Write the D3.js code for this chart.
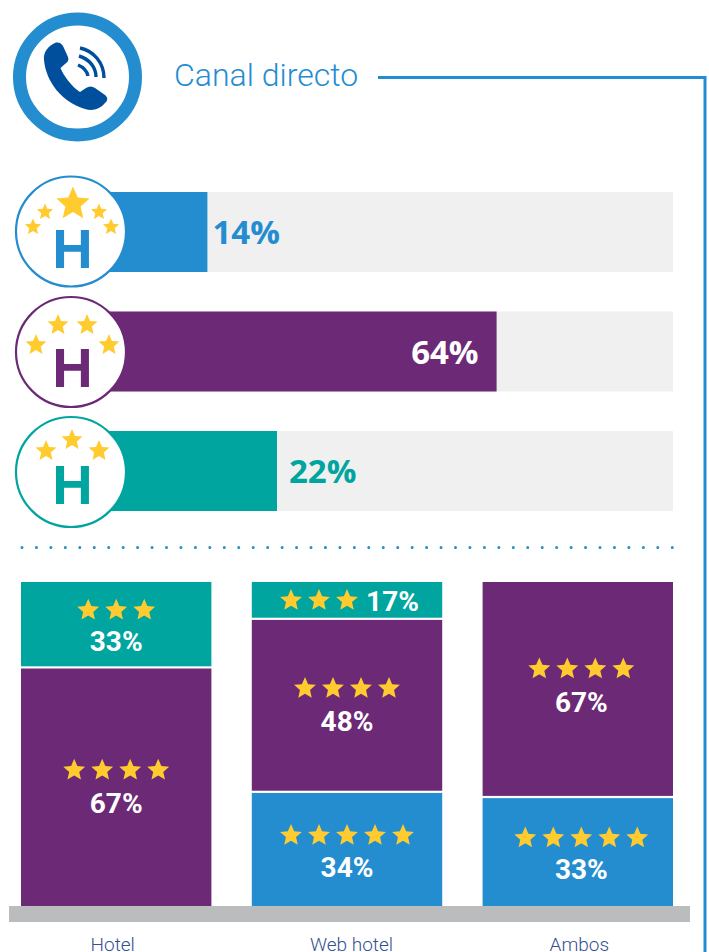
<!DOCTYPE html>
<html><head><meta charset="utf-8">
<script src="https://cdn.jsdelivr.net/npm/d3@7/dist/d3.min.js"></script>
<style>html,body{margin:0;padding:0;background:#fff}svg{display:block}</style></head>
<body><div id="chart"></div>
<script>
// Data. The printed labels and the drawn lengths disagree
// in the original, so both are kept: drawn values are estimates on a 0-100 track.
const rowLabels = ["14%", "64%", "22%"];
const rowDrawn = [22.4, 70.6, 34.0];
const rowStars = [5, 4, 3];
const columns = ["Hotel", "Web hotel", "Ambos"];
const hotelDrawn = [26.7, 73.3];
const hotelLabels = ["33%", "67%"];
const hotelStars = [3, 4];
const webDrawn = [11.7, 53.4, 34.9];
const webLabels = ["17%", "48%", "34%"];
const webStars = [3, 4, 5];
const ambosDrawn = [66.7, 33.3];
const ambosLabels = ["67%", "33%"];
const ambosStars = [4, 5];

// Layout and style, apart from the data
const BLUE = "#248dcf", PURPLE = "#6c2a76", TEAL = "#00a5a0", GOLD = "#ffcb2f";
const starColor = {3: TEAL, 4: PURPLE, 5: BLUE};
const hotelOffsets = [[-15, 26], [-17, 26]];
const webOffsets = [[0, 0], [-18, 25], [-14, 28]];
const ambosOffsets = [[-21, 22], [-14, 27]];
const colCenterShift = [0, 0, 3.5];
const captionShift = [-3.5, 4.5, 1.5];

const W = 709, H = 952;
const svg = d3.select("#chart").append("svg").attr("width", W).attr("height", H);

const starPath = (r) => {
  const pts = [];
  for (let i = 0; i < 10; i++) {
    const a = -Math.PI / 2 + i * Math.PI / 5, q = i % 2 ? r * 0.46 : r;
    pts.push([q * Math.cos(a), q * Math.sin(a)]);
  }
  return d3.line()(pts) + "Z";
};
const star = (g, x, y, r) => g.append("path").attr("d", starPath(r))
  .attr("transform", `translate(${x},${y})`).attr("fill", GOLD);

// header
svg.append("circle").attr("cx", 77.5).attr("cy", 77).attr("r", 58).attr("fill", "#fff")
  .attr("stroke", BLUE).attr("stroke-width", 13);
svg.append("path").attr("fill", "#004f9c").attr("d",
  "M44,60 C43,52 49,45 56,42.5 C59,42 61,43 63,46 L68,57 C69,60 68,62 65,64 L60.5,68 C63,75 72,87 80,92 L86,88 C89,86 92,86 95,88 L105,95 C108,98 108,100 105,103 C99,110 92,111 85,109 C62,102 46,82 44,60 Z");
const arcs = svg.append("g").attr("fill", "none").attr("stroke", "#004f9c").attr("stroke-width", 3.4);
arcs.append("path").attr("d", "M80,48 C94,51 104,63 104,78");
arcs.append("path").attr("d", "M79,56 C89,59 96,67 96,77");
arcs.append("path").attr("d", "M78,65 C83,67 87,71 88,76");
svg.append("text").text("Canal directo").attr("x", 174).attr("y", 86)
  .attr("font-family", "Roboto").attr("font-weight", 300).attr("font-size", 32).attr("fill", BLUE);
svg.append("path").attr("d", "M378,77.5H705V952").attr("fill", "none").attr("stroke", BLUE).attr("stroke-width", 3);

// horizontal bars
const xRow = d3.scaleLinear().domain([0, 100]).range([73, 673]);
const yRow = d3.scaleBand().domain(d3.range(3)).range([192, 511]).paddingInner(0.3305);
const rowColor = [BLUE, PURPLE, TEAL];
const rowG = svg.selectAll("g.row").data(rowDrawn).join("g").attr("class", "row");
rowG.append("rect").attr("x", xRow(0)).attr("y", (d, i) => yRow(i)).attr("width", xRow(100) - xRow(0))
  .attr("height", yRow.bandwidth()).attr("fill", "#f0f0f0");
rowG.append("rect").attr("x", xRow(0)).attr("y", (d, i) => yRow(i)).attr("width", d => xRow(d) - xRow(0))
  .attr("height", yRow.bandwidth()).attr("fill", (d, i) => rowColor[i]);
rowG.append("text").text((d, i) => rowLabels[i])
  .attr("x", (d, i) => i === 1 ? xRow(d) - 18 : xRow(d) + (i === 0 ? 5 : 12))
  .attr("text-anchor", (d, i) => i === 1 ? "end" : "start")
  .attr("y", (d, i) => yRow(i) + yRow.bandwidth() / 2 + 12)
  .attr("font-family", "Open Sans").attr("font-weight", 700).attr("font-size", 33)
  .attr("fill", (d, i) => i === 1 ? "#fff" : rowColor[i]);

const badgeStars = [
  [[73,204,17.5],[45,212,8.5],[99,212,8.5],[33,227,8.5],[111,227,8.5]],
  [[58,325,11],[87,325,11],[36,345,11],[109,345,11]],
  [[72,440,11],[46,451,11],[99,451,11]]
];
const badgeCy = [231.5, 352, 472];
const badgeBase = [268, 387, 504];
rowDrawn.forEach((d, i) => {
  const g = svg.append("g");
  g.append("circle").attr("cx", 71).attr("cy", badgeCy[i]).attr("r", 55).attr("fill", "#fff")
    .attr("stroke", rowColor[i]).attr("stroke-width", 2.2);
  g.append("text").text("H").attr("x", 72.5).attr("y", badgeBase[i]).attr("text-anchor", "middle")
    .attr("font-family", "Liberation Sans").attr("font-weight", 700).attr("font-size", 56).attr("fill", rowColor[i]);
  badgeStars[i].forEach(s => star(g, s[0], s[1], s[2]));
});

// dotted separator
svg.append("line").attr("x1", 22).attr("x2", 674).attr("y1", 547.5).attr("y2", 547.5)
  .attr("stroke", BLUE).attr("stroke-width", 3).attr("stroke-linecap", "round").attr("stroke-dasharray", "0 14.45");

// stacked columns
const xCol = d3.scaleBand().domain(columns).range([21, 673]).paddingInner(0.175);
const yCol = d3.scaleLinear().domain([0, 100]).range([582, 906]);
const colData = [
  {name: columns[0], drawn: hotelDrawn, labels: hotelLabels, stars: hotelStars, off: hotelOffsets},
  {name: columns[1], drawn: webDrawn, labels: webLabels, stars: webStars, off: webOffsets},
  {name: columns[2], drawn: ambosDrawn, labels: ambosLabels, stars: ambosStars, off: ambosOffsets}
];
colData.forEach((c, ci) => {
  let acc = 0;
  const x0 = xCol(c.name), bw = xCol.bandwidth();
  c.drawn.forEach((d, i) => {
    const top = yCol(acc), bot = yCol(acc + d);
    acc += d;
    const last = i === c.drawn.length - 1;
    const g = svg.append("g");
    g.append("rect").attr("x", x0).attr("y", top).attr("width", bw)
      .attr("height", bot - top - (last ? 0 : 2.2)).attr("fill", starColor[c.stars[i]]);
    const cx = x0 + bw / 2 + colCenterShift[ci], mid = (top + bot) / 2;
    const inline = d < 15;
    const n = c.stars[i], step = 28;
    const sx = inline ? cx - 28 : cx;
    const sy = inline ? mid - 0.5 : mid + c.off[i][0];
    for (let k = 0; k < n; k++) star(g, sx + (k - (n - 1) / 2) * step, sy, 11.5);
    g.append("text").text(c.labels[i])
      .attr("x", inline ? cx + 45.5 : cx).attr("y", inline ? mid + 10 : mid + c.off[i][1])
      .attr("text-anchor", "middle").attr("font-family", "Roboto").attr("font-weight", 700)
      .attr("font-size", 28).attr("fill", "#fff");
  });
  svg.append("text").text(c.name).attr("x", x0 + bw / 2 + captionShift[ci]).attr("y", 951)
    .attr("text-anchor", "middle").attr("font-family", "Roboto").attr("font-weight", 300)
    .attr("font-size", 19).attr("fill", "#34508f");
});
svg.append("rect").attr("x", 9).attr("y", 906).attr("width", 681).attr("height", 16).attr("fill", "#bbbcbe");
</script></body></html>
